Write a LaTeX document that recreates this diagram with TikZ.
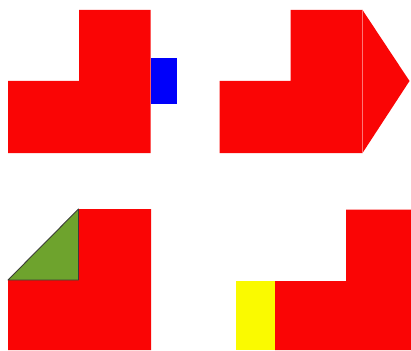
\documentclass[tikz,border=0pt]{standalone}
\definecolor{shapered}{RGB}{250,5,5}
\definecolor{shapeblue}{RGB}{0,0,250}
\definecolor{shapegreen}{RGB}{110,163,45}
\definecolor{shapeyellow}{RGB}{250,250,0}
\definecolor{edgegray}{RGB}{60,60,55}
\begin{document}
\begin{tikzpicture}[x=1pt,y=-1pt,
  redshape/.style={fill=shapered,draw=none},
  seam/.style={draw=shapered!55!white,line width=0.6pt}]
\useasboundingbox (0,0) rectangle (411,350);
% top-left
\fill[redshape] (8,81) -- (79,81) -- (79,10) -- (150.5,10) -- (150.5,153) -- (8,153) -- cycle;
\fill[shapeblue] (150.5,58) rectangle (177,104);
% top-right
\fill[redshape] (219.5,81) -- (290.5,81) -- (290.5,10) -- (362.5,10) -- (362.5,153) -- (219.5,153) -- cycle;
\fill[redshape] (362.5,10) -- (409.5,81) -- (362.5,153) -- cycle;
\draw[seam] (362.5,10) -- (362.5,153);
% bottom-left
\fill[redshape] (8,280) -- (78.5,280) -- (78.5,209) -- (151,209) -- (151,350) -- (8,350) -- cycle;
\filldraw[fill=shapegreen,draw=edgegray,line width=0.9pt,line join=round] (8,280) -- (78.5,209) -- (78.5,280) -- cycle;
% bottom-right
\fill[redshape] (275,281) -- (346,281) -- (346,209.5) -- (411,209.5) -- (411,350) -- (275,350) -- cycle;
\fill[shapeyellow] (235.7,281) rectangle (275,350);
\end{tikzpicture}
\end{document}
